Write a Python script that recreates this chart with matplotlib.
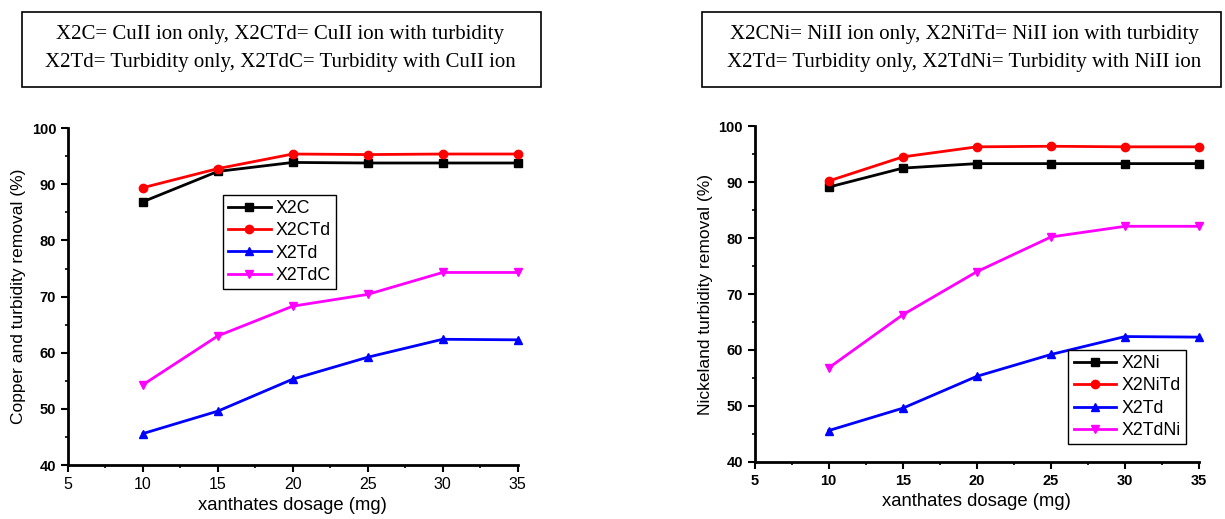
import matplotlib
matplotlib.use("Agg")
import matplotlib.pyplot as plt
from matplotlib.patches import Rectangle
from matplotlib.ticker import MultipleLocator

# Data
dosage = [10, 15, 20, 25, 30, 35]

cu_x2c = [86.9, 92.3, 93.9, 93.8, 93.8, 93.8]
cu_x2ctd = [89.4, 92.8, 95.4, 95.3, 95.4, 95.4]
cu_x2td = [45.6, 49.6, 55.3, 59.2, 62.4, 62.3]
cu_x2tdc = [54.3, 63.0, 68.3, 70.4, 74.3, 74.3]

ni_x2ni = [89.1, 92.5, 93.3, 93.3, 93.3, 93.3]
ni_x2nitd = [90.2, 94.5, 96.3, 96.4, 96.3, 96.3]
ni_x2td = [45.6, 49.6, 55.3, 59.2, 62.4, 62.3]
ni_x2tdni = [56.8, 66.3, 74.0, 80.2, 82.1, 82.1]

cu_labels = ["X2C", "X2CTd", "X2Td", "X2TdC"]
ni_labels = ["X2Ni", "X2NiTd", "X2Td", "X2TdNi"]

colors = ["black", "red", "blue", "magenta"]
markers = ["s", "o", "^", "v"]

plt.rcParams["font.family"] = "Liberation Sans"

fig = plt.figure(figsize=(12.25, 5.19), dpi=100)


def style_axes(ax, ylabel, bold_x):
    ax.set_xlim(5, 35)
    ax.set_ylim(40, 100)
    ax.spines["top"].set_visible(False)
    ax.spines["right"].set_visible(False)
    ax.spines["left"].set_linewidth(2)
    ax.spines["bottom"].set_linewidth(2)
    ax.xaxis.set_major_locator(MultipleLocator(5))
    ax.xaxis.set_minor_locator(MultipleLocator(2.5))
    ax.yaxis.set_major_locator(MultipleLocator(10))
    ax.yaxis.set_minor_locator(MultipleLocator(5))
    ax.tick_params(which="major", direction="out", length=5, width=1.5, labelsize=10.5)
    ax.tick_params(which="minor", direction="out", length=2.5, width=1.2)
    for lab in ax.get_yticklabels():
        lab.set_fontweight("bold")
    for lab in ax.get_xticklabels():
        if bold_x:
            lab.set_fontweight("bold")
        else:
            lab.set_fontsize(11.5)
    ax.set_xlabel("xanthates dosage (mg)", fontsize=13.3)
    ax.set_ylabel(ylabel, fontsize=12.5)


def add_legend(ax, loc, anchor):
    leg = ax.legend(loc=loc, bbox_to_anchor=anchor, fontsize=12.8,
                    fancybox=False, edgecolor="black", framealpha=1,
                    handlelength=2.4, handletextpad=0.3, borderpad=0.3,
                    labelspacing=0.3, borderaxespad=0)
    leg.get_frame().set_linewidth(1)


# -----------------------------
# Left: copper
# -----------------------------
ax1 = fig.add_axes([0.0555, 0.104, 0.367, 0.649])
for ys, lab, c, m in zip([cu_x2c, cu_x2ctd, cu_x2td, cu_x2tdc], cu_labels, colors, markers):
    ax1.plot(dosage, ys, color=c, marker=m, markersize=6, linewidth=2, label=lab, clip_on=False)
style_axes(ax1, "Copper and turbidity removal (%)", bold_x=False)
add_legend(ax1, "upper left", (0.344, 0.803))

# -----------------------------
# Right: nickel
# -----------------------------
ax2 = fig.add_axes([0.616, 0.110, 0.363, 0.647])
for ys, lab, c, m in zip([ni_x2ni, ni_x2nitd, ni_x2td, ni_x2tdni], ni_labels, colors, markers):
    ax2.plot(dosage, ys, color=c, marker=m, markersize=6, linewidth=2, label=lab, clip_on=False)
style_axes(ax2, "Nickeland turbidity removal (%)", bold_x=True)
add_legend(ax2, "lower right", (0.971, 0.052))

# -----------------------------
# Caption boxes
# -----------------------------
fig.patches.append(Rectangle((22 / 1225, 1 - 87 / 519), 519 / 1225, 75 / 519,
                             transform=fig.transFigure, fill=False, edgecolor="black", linewidth=1.2))
fig.patches.append(Rectangle((702 / 1225, 1 - 87 / 519), 519 / 1225, 75 / 519,
                             transform=fig.transFigure, fill=False, edgecolor="black", linewidth=1.2))

fig.text(280 / 1225, 1 - 34 / 519, "X2C= CuII ion only, X2CTd= CuII ion with turbidity",
         ha="center", va="center", fontsize=15, family="Liberation Serif")
fig.text(280 / 1225, 1 - 62 / 519, "X2Td= Turbidity only, X2TdC= Turbidity with CuII ion",
         ha="center", va="center", fontsize=15, family="Liberation Serif")
fig.text(964 / 1225, 1 - 34 / 519, "X2CNi= NiII ion only, X2NiTd= NiII ion with turbidity",
         ha="center", va="center", fontsize=15, family="Liberation Serif")
fig.text(964 / 1225, 1 - 62 / 519, "X2Td= Turbidity only, X2TdNi= Turbidity with NiII ion",
         ha="center", va="center", fontsize=15, family="Liberation Serif")

fig.savefig("out.png", dpi=100)
